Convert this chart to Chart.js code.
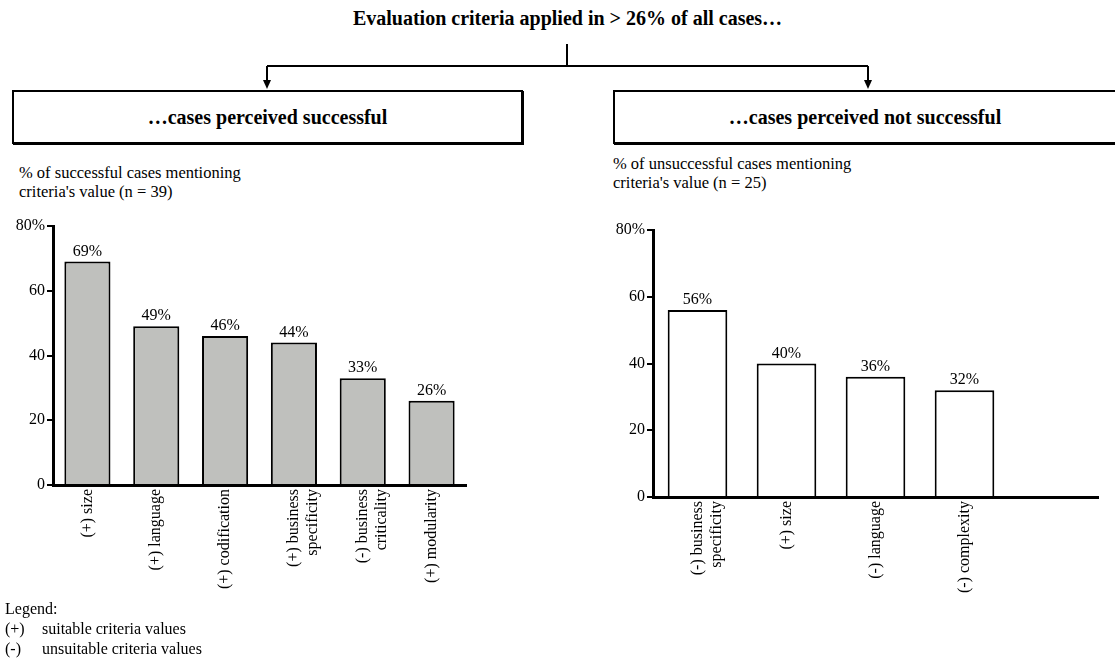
<!DOCTYPE html>
<html lang="en">
<head>
<meta charset="UTF-8">
<title>Evaluation criteria</title>
<script src="https://cdn.jsdelivr.net/npm/chart.js"></script>
<style>
  body { margin: 0; background: #fff; font-family: "Liberation Serif", "DejaVu Serif", serif; color: #000; }
  #page { position: relative; width: 1115px; height: 662px; overflow: hidden; }
  .abs { position: absolute; }
  .title { left: 0; width: 1135px; top: 7px; text-align: center; font-weight: bold; font-size: 20px; }
  .box { top: 90px; height: 50px; border: 2px solid #000; box-shadow: 1px 1px 0 #000; font-weight: bold; font-size: 20px; line-height: 50px; text-align: center; }
  .sub { font-size: 16.5px; line-height: 19px; }
  .legend { left: 5px; top: 599px; font-size: 16px; line-height: 20px; }
  .legend span { display: inline-block; width: 37px; }
</style>
</head>
<body>
<div id="page">
  <div class="abs title">Evaluation criteria applied in &gt; 26% of all cases…</div>
  <svg class="abs" style="left:0;top:0" width="1115" height="100">
    <g stroke="#000" stroke-width="2" fill="none">
      <line x1="567" y1="44" x2="567" y2="66"/>
      <line x1="267" y1="66" x2="868" y2="66"/>
      <line x1="267" y1="66" x2="267" y2="82"/>
      <line x1="868" y1="66" x2="868" y2="82"/>
    </g>
    <polygon points="263,80 271,80 267,89" fill="#000"/>
    <polygon points="864,80 872,80 868,89" fill="#000"/>
  </svg>
  <div class="abs box" style="left:12px;width:507px;">…cases perceived successful</div>
  <div class="abs box" style="left:613px;width:520px;padding-right:6px;box-sizing:content-box;"><span style="position:relative;left:-10px">…cases perceived not successful</span></div>

  <div class="abs sub" style="left:19px;top:163px;">% of successful cases mentioning<br>criteria's value (n = 39)</div>
  <div class="abs sub" style="left:613px;top:154px;">% of unsuccessful cases mentioning<br>criteria's value (n = 25)</div>

  <div class="abs" style="left:0;top:200px;width:480px;height:400px;"><canvas id="chartA"></canvas></div>
  <div class="abs" style="left:600px;top:200px;width:515px;height:420px;"><canvas id="chartB"></canvas></div>

  <div class="abs legend">Legend:<br><span>(+)</span>suitable criteria values<br><span>(-)</span>unsuitable criteria values</div>
</div>
<script>
// successful cases (n = 39)
const successLabels = ['(+) size', '(+) language', '(+) codification', ['(+) business', 'specificity'], ['(-) business', 'criticality'], '(+) modularity'];
const successValues = [69, 49, 46, 44, 33, 26];

// unsuccessful cases (n = 25), last slot stays empty
const failLabels = [['(-) business', 'specificity'], '(+) size', '(-) language', '(-) complexity', ''];
const failValues = [56, 40, 36, 32, null];

const yTicks = [0, 20, 40, 60, 80];

const serif = '"Liberation Serif", "DejaVu Serif", serif';

// draws "69%" etc. above each bar
const valueLabels = {
  id: 'valueLabels',
  afterDatasetsDraw(chart) {
    const ctx = chart.ctx;
    const meta = chart.getDatasetMeta(0);
    ctx.save();
    ctx.font = '16px ' + serif;
    ctx.fillStyle = '#000';
    ctx.textAlign = 'center';
    ctx.textBaseline = 'alphabetic';
    meta.data.forEach((bar, i) => {
      const v = chart.data.datasets[0].data[i];
      if (v == null) return;
      ctx.fillText(v + '%', bar.x, bar.y - 6);
    });
    ctx.restore();
  }
};

function makeChart(id, labels, values, fill, pad, xHeight) {
  return new Chart(document.getElementById(id), {
    type: 'bar',
    data: {
      labels: labels,
      datasets: [{
        data: values,
        backgroundColor: fill,
        borderColor: '#000',
        borderWidth: 2,
        categoryPercentage: 1,
        barPercentage: 0.67
      }]
    },
    options: {
      responsive: true,
      maintainAspectRatio: false,
      animation: false,
      layout: { padding: pad },
      plugins: { legend: { display: false }, tooltip: { enabled: false } },
      scales: {
        x: {
          grid: { display: false, drawTicks: false },
          border: { color: '#000', width: 3 },
          ticks: {
            autoSkip: false, minRotation: 90, maxRotation: 90, padding: 4,
            color: '#000', font: { family: serif, size: 16 }
          },
          afterFit: s => { s.height = xHeight; }
        },
        y: {
          min: 0, max: 80,
          afterBuildTicks: s => { s.ticks = yTicks.map(v => ({ value: v })); },
          grid: { drawOnChartArea: false, tickLength: 6, color: '#000', lineWidth: 2 },
          border: { color: '#000', width: 3 },
          ticks: {
            padding: 2, color: '#000', font: { family: serif, size: 16 },
            callback: v => v === 80 ? '80%' : v
          },
          afterFit: s => { s.width = 53; }
        }
      }
    },
    plugins: [valueLabels]
  });
}

makeChart('chartA', successLabels, successValues, '#bfc0bd', { top: 26, right: 14, left: 0, bottom: 0 }, 115);
makeChart('chartB', failLabels, failValues, '#ffffff', { top: 30, right: 17, left: 0, bottom: 0 }, 123);
</script>
</body>
</html>
